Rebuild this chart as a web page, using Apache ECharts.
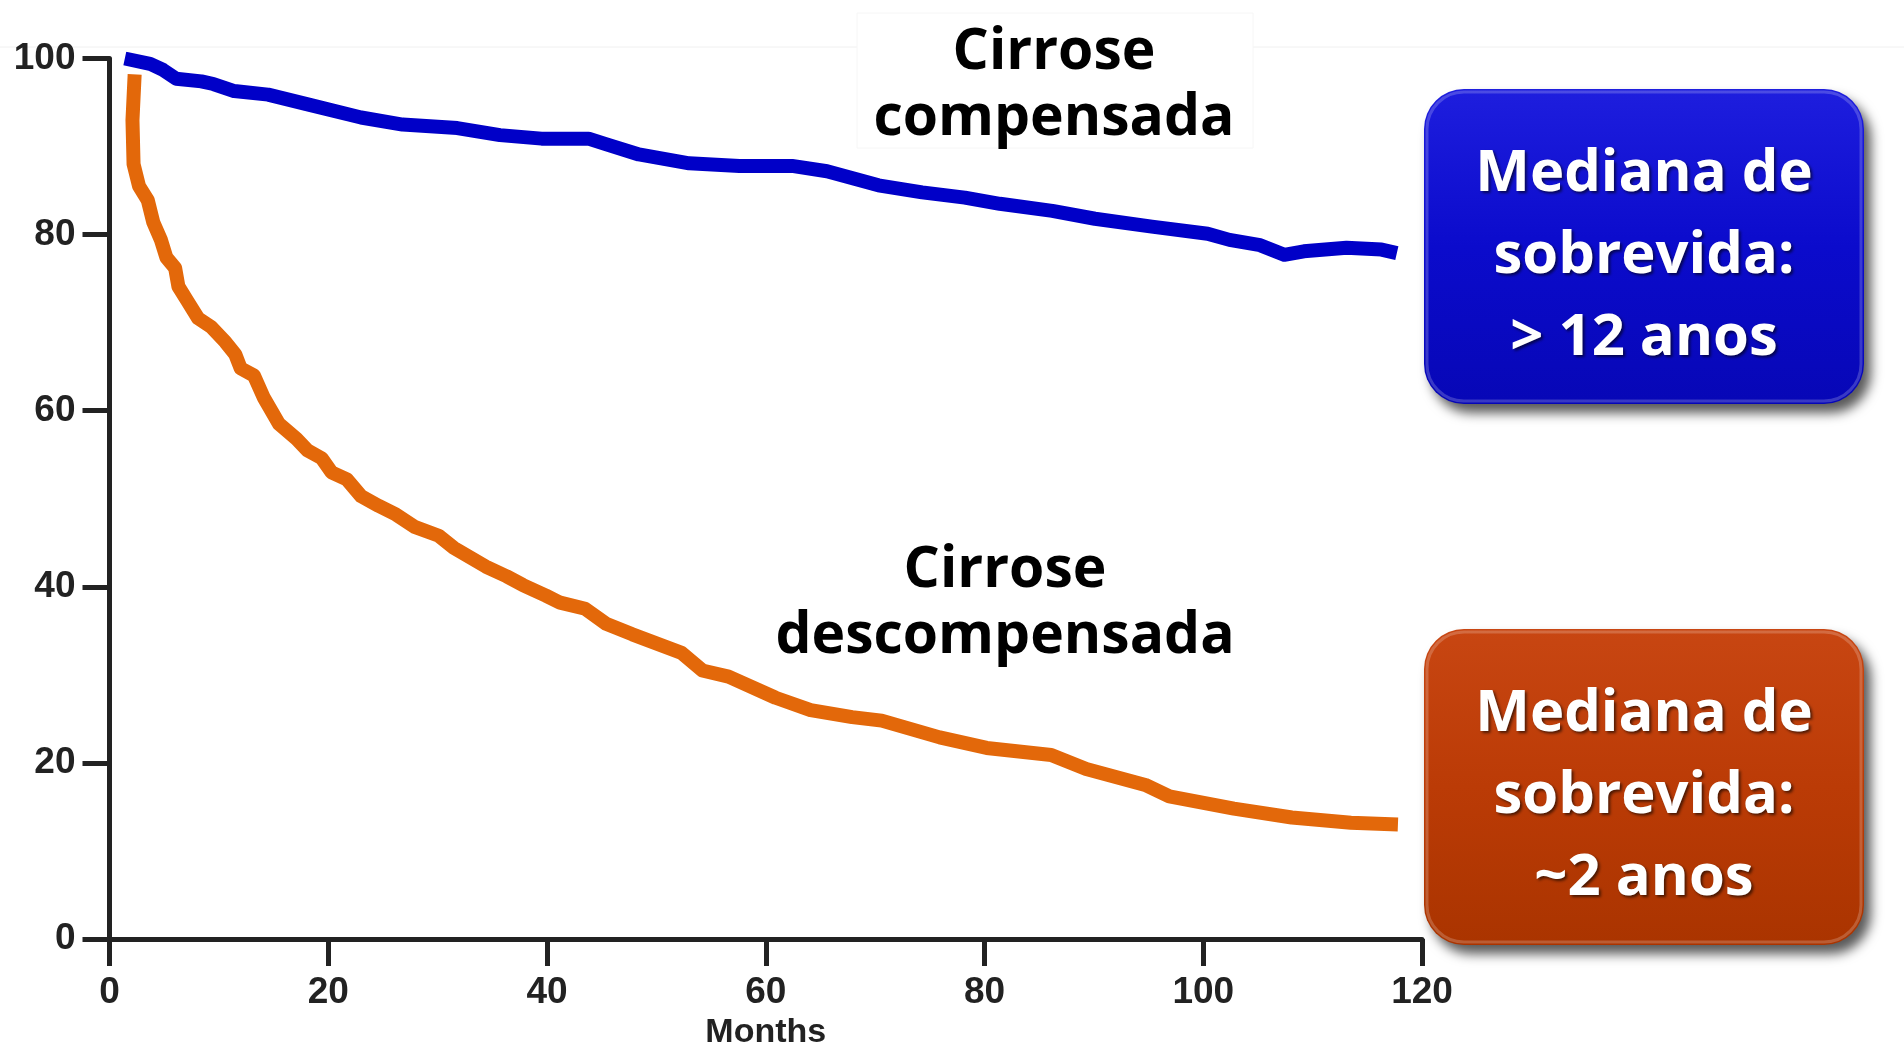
<!DOCTYPE html>
<html>
<head>
<meta charset="utf-8">
<title>Sobrevida na cirrose</title>
<script src="https://cdn.jsdelivr.net/npm/echarts@6/dist/echarts.min.js"></script>
<style>
  html, body { margin: 0; padding: 0; background: #ffffff; }
  #chart { width: 1904px; height: 1044px; }
</style>
</head>
<body>
<div id="chart"></div>
<script>
// Survival (%) over months of follow-up
const xTicks = [0, 20, 40, 60, 80, 100, 120];
const yTicks = [0, 20, 40, 60, 80, 100];

// Compensated cirrhosis
const compMonths = [1.4, 3.7, 4.9, 6.1, 8.4, 9.5, 11.4, 14.5, 18.4, 23.0, 26.8, 31.8, 35.7, 39.5, 43.8, 45.3, 48.4, 53.0, 57.6, 62.4, 65.6, 70.3, 74.3, 78.2, 81.4, 86.2, 90.1, 95.3, 100.4, 102.4, 105.2, 107.4, 109.2, 113.1, 116.3, 117.7];
const compSurv = [100, 99.4, 98.7, 97.7, 97.4, 97.1, 96.3, 95.9, 94.7, 93.3, 92.5, 92.1, 91.3, 90.9, 90.9, 90.3, 89.1, 88.1, 87.8, 87.8, 87.2, 85.6, 84.8, 84.2, 83.5, 82.7, 81.8, 80.9, 80.1, 79.4, 78.8, 77.7, 78.1, 78.5, 78.3, 77.9];

// Decompensated cirrhosis
const decompMonths = [2.3, 2.1, 2.2, 2.7, 3.5, 4.0, 4.7, 5.2, 6.0, 6.3, 7.1, 8.1, 9.3, 10.6, 11.5, 12.0, 13.2, 14.1, 15.5, 17.1, 18.1, 19.4, 20.3, 21.7, 23.0, 24.6, 26.2, 27.9, 30.1, 31.5, 34.4, 36.3, 37.8, 39.9, 41.2, 43.5, 45.4, 47.8, 52.3, 54.2, 56.6, 60.9, 64.1, 67.9, 70.6, 75.9, 80.2, 86.1, 89.3, 94.7, 96.9, 102.8, 108.1, 113.5, 117.8];
const decompSurv = [98.2, 93.0, 88.0, 85.5, 83.9, 81.4, 79.4, 77.4, 76.2, 74.1, 72.5, 70.5, 69.5, 67.8, 66.4, 64.8, 64.0, 61.5, 58.5, 56.8, 55.5, 54.6, 53.0, 52.2, 50.3, 49.2, 48.2, 46.8, 45.8, 44.4, 42.3, 41.2, 40.2, 39.0, 38.2, 37.5, 35.8, 34.6, 32.5, 30.5, 29.8, 27.4, 26.0, 25.2, 24.8, 22.9, 21.7, 20.9, 19.3, 17.5, 16.2, 14.8, 13.8, 13.2, 13.0];

const groupLabels = ['Cirrose\ncompensada', 'Cirrose\ndescompensada'];
const medianTexts = ['Mediana de\nsobrevida:\n> 12 anos', 'Mediana de\nsobrevida:\n~2 anos'];

const zip = (xs, ys) => xs.map((x, i) => [x, ys[i]]);

const axisColor = '#222222';
const tickFont = { color: axisColor, fontFamily: '"Liberation Sans", Arial, sans-serif', fontWeight: 'bold', fontSize: 37 };
const headFont = '"Open Sans", "Noto Sans", sans-serif';

function medianBox(x, y, w, h, colors, text, textY) {
  return {
    type: 'group',
    z: 20,
    children: [
      {
        type: 'rect',
        shape: { x: x, y: y, width: w, height: h, r: 40 },
        style: {
          fill: new echarts.graphic.LinearGradient(0, 0, 0, 1, [
            { offset: 0, color: colors[0] },
            { offset: 0.5, color: colors[1] },
            { offset: 1, color: colors[2] }
          ]),
          shadowBlur: 12,
          shadowOffsetX: 7,
          shadowOffsetY: 9,
          shadowColor: 'rgba(0,0,0,0.65)'
        }
      },
      {
        type: 'rect',
        shape: { x: x + 3, y: y + 3, width: w - 6, height: h - 6, r: 37 },
        style: { fill: 'none', stroke: 'rgba(255,255,255,0.2)', lineWidth: 3 }
      },
      {
        type: 'text',
        x: x + w / 2,
        y: textY,
        style: {
          text: text,
          fill: '#ffffff',
          font: 'bold 58px ' + headFont,
          fontFamily: headFont,
          fontSize: 58,
          fontWeight: 'bold',
          align: 'center',
          verticalAlign: 'middle',
          textAlign: 'center',
          textVerticalAlign: 'middle',
          lineHeight: 82,
          textShadowColor: 'rgba(0,0,0,0.6)',
          textShadowBlur: 3,
          textShadowOffsetX: 2,
          textShadowOffsetY: 2
        }
      }
    ]
  };
}

function groupLabel(x, y, text) {
  return {
    type: 'text',
    x: x,
    y: y,
    z: 20,
    style: {
      text: text,
      fill: '#000000',
      font: 'bold 57px ' + headFont,
      fontFamily: headFont,
      fontSize: 57,
      fontWeight: 'bold',
      align: 'center',
      verticalAlign: 'middle',
      textAlign: 'center',
      textVerticalAlign: 'middle',
      lineHeight: 66
    }
  };
}

const chart = echarts.init(document.getElementById('chart'), null, { renderer: 'canvas' });

chart.setOption({
  backgroundColor: '#ffffff',
  animation: false,
  grid: { left: 109.5, right: 482, top: 58.5, bottom: 105, containLabel: false, outerBoundsMode: 'none' },
  xAxis: {
    type: 'value',
    min: xTicks[0],
    max: xTicks[xTicks.length - 1],
    interval: xTicks[1] - xTicks[0],
    name: 'Months',
    nameLocation: 'middle',
    nameGap: 76,
    nameTextStyle: Object.assign({}, tickFont, { fontSize: 34 }),
    axisLine: { show: true, lineStyle: { color: axisColor, width: 5 } },
    axisTick: { show: true, length: 27, lineStyle: { color: axisColor, width: 5 } },
    axisLabel: Object.assign({ margin: 35 }, tickFont),
    splitLine: { show: false }
  },
  yAxis: {
    type: 'value',
    min: yTicks[0],
    max: yTicks[yTicks.length - 1],
    interval: yTicks[1] - yTicks[0],
    axisLine: { show: true, lineStyle: { color: axisColor, width: 5 } },
    axisTick: { show: true, length: 27, lineStyle: { color: axisColor, width: 5 } },
    axisLabel: Object.assign({ margin: 34 }, tickFont),
    splitLine: { show: false }
  },
  series: [
    {
      name: 'Cirrose compensada',
      type: 'line',
      data: zip(compMonths, compSurv),
      showSymbol: false,
      smooth: false,
      lineStyle: { color: '#0000c8', width: 14, cap: 'butt', join: 'round' },
      z: 3
    },
    {
      name: 'Cirrose descompensada',
      type: 'line',
      data: zip(decompMonths, decompSurv),
      showSymbol: false,
      smooth: false,
      lineStyle: { color: '#e3680a', width: 14, cap: 'butt', join: 'round' },
      z: 3
    }
  ],
  graphic: [
    { type: 'line', shape: { x1: 0, y1: 47, x2: 1904, y2: 47 }, style: { stroke: '#f0f0f0', lineWidth: 1 }, z: -10 },
    { type: 'rect', shape: { x: 857, y: 13, width: 396, height: 135 }, style: { fill: '#ffffff', stroke: '#f6f6f6', lineWidth: 1 }, z: -5 },
    groupLabel(1054, 86, groupLabels[0]),
    groupLabel(1005, 604, groupLabels[1]),
    medianBox(1424, 89, 440, 315, ['#1e1ede', '#0b0bcc', '#0707b6'], medianTexts[0], 256),
    medianBox(1424, 629, 440, 316, ['#c84612', '#bb3b06', '#aa3400'], medianTexts[1], 796)
  ]
});
</script>
</body>
</html>
